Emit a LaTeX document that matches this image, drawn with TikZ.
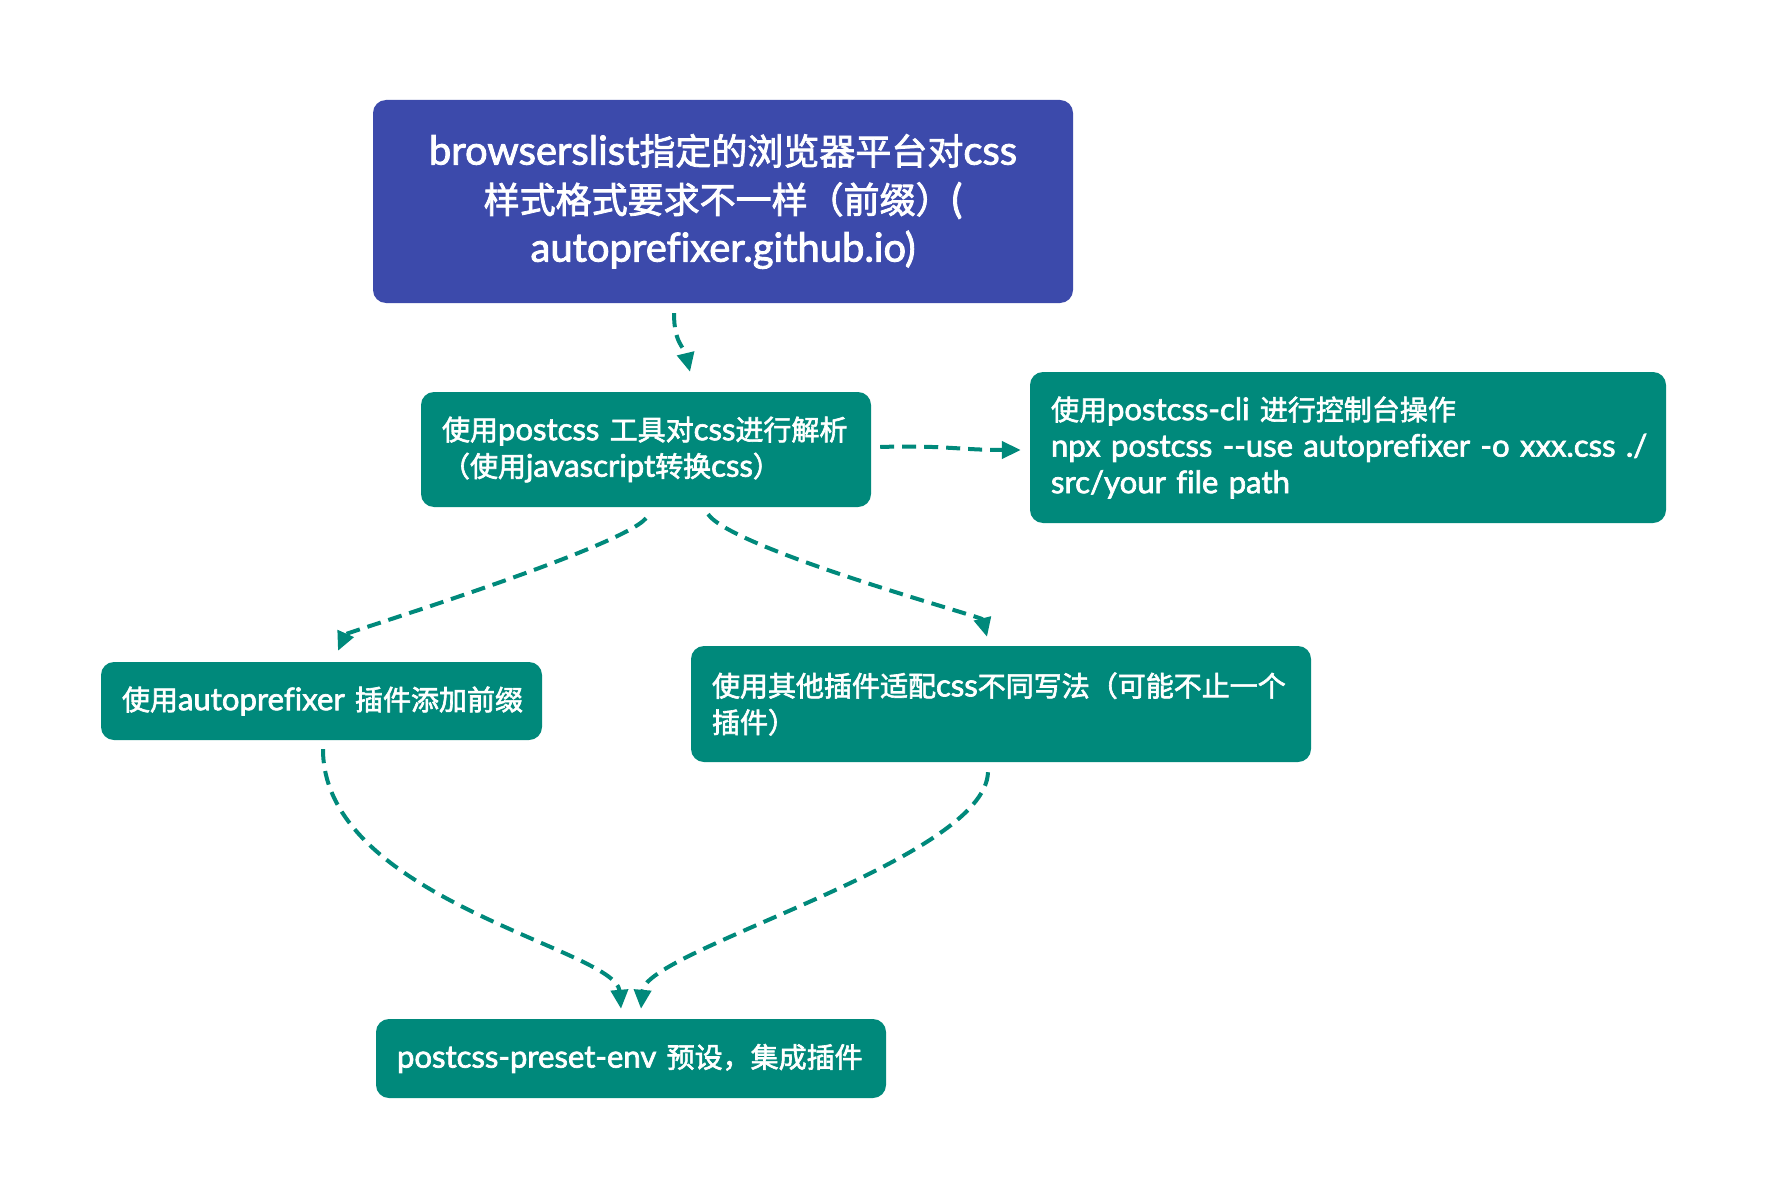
\documentclass[tikz,border=0pt]{standalone}
\usepackage{fontspec}
\setmainfont{Lato}[Scale=1.11, Ligatures={NoCommon}, FakeBold=2.2]
\newfontfamily\cjk{Noto Sans CJK SC}[FakeBold=2.2]
\usetikzlibrary{arrows.meta}
\definecolor{topblue}{HTML}{3C4AAB}
\definecolor{myteal}{HTML}{00897B}
\newcommand{\oneline}[1]{\mbox{#1}}
\tikzset{
  box/.style={rectangle, rounded corners=13pt, inner xsep=21pt, inner ysep=0pt,
    fill=myteal, text=white, align=left, font=\fontsize{28}{36.5}\selectfont},
  bluebox/.style={box, fill=topblue, align=center, font=\fontsize{36}{48.5}\selectfont},
  conn/.style={draw=myteal, line width=4pt, dash pattern=on 14pt off 8pt,
    -{Triangle[length=19pt,width=17pt]}}
}
\begin{document}
\begin{tikzpicture}[x=1pt,y=-1pt]
\fill[white] (0,0) rectangle (1766,1198);
\useasboundingbox (0,0) rectangle (1766,1198);

\node[bluebox, text width=658pt, minimum height=203pt] (top) at (723,201.5)
  {\oneline{browserslist{\cjk 指定的浏览器平台对}css}\\\oneline{{\cjk 样式格式要求不一样（前缀）}(}\\\oneline{autoprefixer.github.io)}};
\node[box, text width=408pt, minimum height=115pt] (parse) at (646,449.5)
  {\oneline{{\cjk 使用}postcss {\cjk 工具对}css{\cjk 进行解析}}\\\oneline{{\cjk （使用}javascript{\cjk 转换}css{\cjk ）}}};
\node[box, text width=594pt, minimum height=151pt] (cli) at (1348,447.5)
  {\oneline{{\cjk 使用}postcss-cli {\cjk 进行控制台操作}}\\\oneline{npx postcss -{}-use autoprefixer -o xxx.css ./}\\\oneline{src/your file path}};
\node[box, text width=399pt, minimum height=78pt] (auto) at (321.5,701)
  {\oneline{{\cjk 使用}autoprefixer {\cjk 插件添加前缀}}};
\node[box, text width=578pt, minimum height=116pt] (other) at (1001,704)
  {\oneline{{\cjk 使用其他插件适配}css{\cjk 不同写法（可能不止一个}}\\\oneline{{\cjk 插件）}}};
\node[box, text width=468pt, minimum height=79pt] (env) at (631,1058.5)
  {\oneline{postcss-preset-env {\cjk 预设，集成插件}}};

\draw[conn] ([xshift=-49pt,yshift=-10pt]top.south) .. controls +(0,30) and +(-6,-25) .. ([xshift=44pt,yshift=20pt]parse.north);
\draw[conn] ([xshift=9pt,yshift=2.5pt]parse.east) .. controls +(60,-2) and +(-60,0) .. ([xshift=-9pt,yshift=-2.5pt]cli.west);
\draw[conn] ([yshift=-11pt]parse.south) .. controls +(-25,30) and +(8,-18) .. ([xshift=16.5pt,yshift=11pt]auto.north);
\draw[conn] ([xshift=62pt,yshift=-7pt]parse.south) .. controls +(25,35) and +(-5,-20) .. ([xshift=-14pt,yshift=9pt]other.north);
\draw[conn] ([xshift=1.5pt,yshift=-9pt]auto.south) .. controls +(0,150) and +(-5,-60) .. ([xshift=-10pt,yshift=10pt]env.north);
\draw[conn] ([xshift=-13pt,yshift=-10pt]other.south) .. controls +(-3,88) and +(5,-59) .. ([xshift=10pt,yshift=10pt]env.north);
\end{tikzpicture}
\end{document}
